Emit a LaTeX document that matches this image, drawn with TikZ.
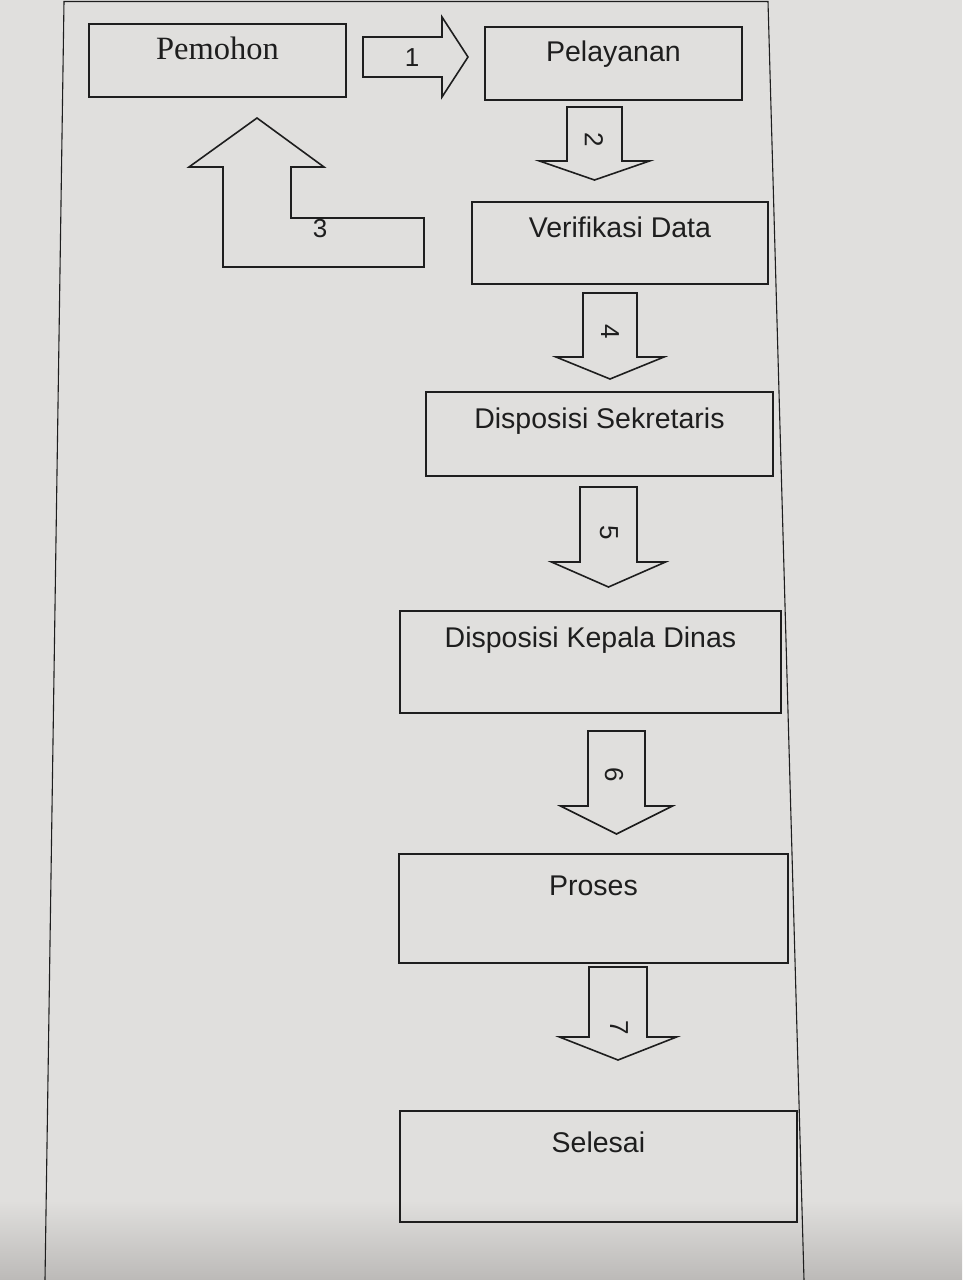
\documentclass[tikz,border=0pt]{standalone}
\usepackage{fontspec}
\setmainfont{Liberation Sans}
\newfontfamily\pemserif{Liberation Serif}
\usetikzlibrary{calc}
\definecolor{paper}{RGB}{224,223,221}
\definecolor{paperdark}{RGB}{188,186,184}
\definecolor{ink}{RGB}{30,30,30}
\tikzset{
  box/.style={draw=ink, line width=1.9pt, rectangle, inner sep=0pt, anchor=north west},
  lbl/.style={font=\fontsize{28.5}{34}\selectfont, text=ink, anchor=base, inner sep=0pt},
  blockarrow/.style={draw=ink, line width=1.6pt, line join=miter},
  digit/.style={font=\fontsize{26}{30}\selectfont, text=ink, inner sep=0pt},
  frameline/.style={draw=ink, line width=1.1pt}
}
\newcommand\DownBlock[7]{% name, cx, top, shafthalf, headbase, headhalf, tip
  \coordinate (#1) at (#2,#3);
  \coordinate (#1tip) at (#2,#7);
  \draw[blockarrow] (#2-#4,#3) -- (#2+#4,#3) -- (#2+#4,#5) -- (#2+#6,#5) -- (#1tip)
    -- (#2-#6,#5) -- (#2-#4,#5) -- cycle;
}
\begin{document}
\begin{tikzpicture}[x=1pt,y=-1pt]
\useasboundingbox (0,0) rectangle (962,1280);
\fill[paper] (0,0) rectangle (962,1280);
\shade[top color=paper, bottom color=paperdark] (0,1200) rectangle (962,1280);

% page frame
\draw[frameline] (45,1280) -- (64,1.5) -- (768,1.5) -- (804,1280);

% boxes
\node[box, minimum width=257pt, minimum height=73pt,
  label={[lbl, font=\pemserif\fontsize{32.5}{38}\selectfont, yshift=-36pt]north:Pemohon}] (pem) at (88,23) {};
\node[box, minimum width=257pt, minimum height=73pt,
  label={[lbl, yshift=-35pt]north:Pelayanan}] (pel) at (484,26) {};
\node[box, minimum width=296pt, minimum height=82pt,
  label={[lbl, yshift=-36pt]north:Verifikasi Data}] (ver) at (471,201) {};
\node[box, minimum width=347pt, minimum height=84pt,
  label={[lbl, yshift=-37pt]north:Disposisi Sekretaris}] (sek) at (425,391) {};
\node[box, minimum width=381pt, minimum height=102pt,
  label={[lbl, yshift=-37pt]north:Disposisi Kepala Dinas}] (kep) at (399,610) {};
\node[box, minimum width=389pt, minimum height=109pt,
  label={[lbl, yshift=-42pt]north:Proses}] (pro) at (398,853) {};
\node[box, minimum width=397pt, minimum height=111pt,
  label={[lbl, yshift=-42pt]north:Selesai}] (sel) at (399,1110) {};

% arrow 1: Pemohon -> Pelayanan
\coordinate (a1) at (363,57);
\coordinate (a1tip) at (468,57);
\draw[blockarrow] (363,37) -- (442,37) -- (442,17) -- (a1tip) -- (442,97) -- (442,77) -- (363,77) -- cycle;
\node[digit] (d1) at (412,58) {1};

% arrow 2: Pelayanan -> Verifikasi Data
\DownBlock{a2}{594.5}{107}{27.5}{161}{55}{180}
\node[digit, rotate=-90] (d2) at (594,140) {2};

% arrow 3: Verifikasi Data -> Pemohon (L-shaped up arrow)
\coordinate (a3) at (424,242);
\coordinate (a3tip) at (257,118);
\draw[blockarrow] (223,267) -- (223,167) -- (189,167) -- (a3tip) -- (324,167) -- (291,167)
  -- (291,218) -- (424,218) -- (424,267) -- cycle;
\node[digit] (d3) at (320,229) {3};

% arrow 4: Verifikasi Data -> Disposisi Sekretaris
\DownBlock{a4}{610}{293}{27}{357}{54}{379}
\node[digit, rotate=-90] (d4) at (610,332) {4};

% arrow 5: Disposisi Sekretaris -> Disposisi Kepala Dinas
\DownBlock{a5}{608.5}{487}{28.5}{562}{57}{587}
\node[digit, rotate=-90] (d5) at (609,533) {5};

% arrow 6: Disposisi Kepala Dinas -> Proses
\DownBlock{a6}{616.5}{731}{28.5}{806}{56}{834}
\node[digit, rotate=-90] (d6) at (614,775) {6};

% arrow 7: Proses -> Selesai
\DownBlock{a7}{618}{967}{29}{1037}{58.5}{1060}
\node[digit, rotate=-90] (d7) at (619,1028) {7};
\end{tikzpicture}
\end{document}
